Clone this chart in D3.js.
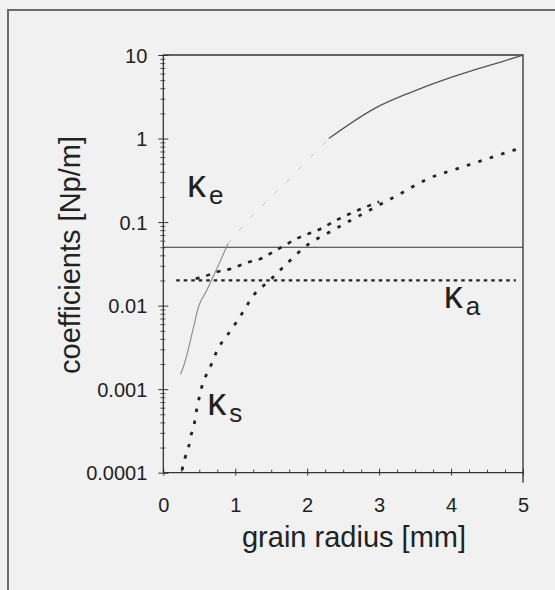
<!DOCTYPE html>
<html>
<head>
<meta charset="utf-8">
<script src="https://cdn.jsdelivr.net/npm/d3@7/dist/d3.min.js"></script>
<style>
  body { margin: 0; background: #f1f1f1; }
  svg { display: block; }
  text { font-family: "Liberation Sans", Arial, sans-serif; fill: #222; }
</style>
</head>
<body>
<div id="chart"></div>
<script>
//data
var yTicks = [10, 1, 0.1, 0.01, 0.001, 0.0001];
var yTickLabels = ["10", "1", "0.1", "0.01", "0.001", "0.0001"];
var xTicks = [0, 1, 2, 3, 4, 5];

// kappa_s (lower dashed curve)
var ksX = [0.26, 0.30, 0.35, 0.39, 0.43, 0.45, 0.48, 0.53, 0.60, 0.67, 0.74, 0.82, 0.92, 1.02, 1.14, 1.25, 1.37, 1.52, 1.67, 2.0, 2.3, 2.65, 3.0, 3.3, 3.68, 4.1, 4.5, 4.86, 5.0];
var ksY = [0.000107, 0.000148, 0.0002, 0.00029, 0.00038, 0.00049, 0.00066, 0.00103, 0.0015, 0.002, 0.0028, 0.0037, 0.0048, 0.0064, 0.0093, 0.0132, 0.0166, 0.0217, 0.029, 0.053, 0.075, 0.11, 0.16, 0.22, 0.33, 0.44, 0.57, 0.72, 0.78];

// kappa_a + kappa_s (upper dashed curve, merges with kappa_s)
var sumX = [0.45, 0.55, 0.72, 0.93, 1.18, 1.34, 1.51, 1.66, 1.9, 2.16, 2.45, 2.8, 3.0];
var sumY = [0.021, 0.022, 0.025, 0.0275, 0.033, 0.036, 0.043, 0.051, 0.066, 0.081, 0.11, 0.15, 0.175];

// kappa_a (flat dotted line)
var kaX = [0.18, 4.9];
var kaY = [0.02, 0.02];

// kappa_e (thin solid line, faint in the middle)
var keX = [0.24, 0.30, 0.42, 0.49, 0.60, 0.72, 0.90, 1.2, 1.5, 1.8, 2.05, 2.3, 2.94, 3.45, 4.0, 4.37, 4.7, 5.0];
var keY = [0.0015, 0.0021, 0.0055, 0.0097, 0.015, 0.025, 0.055, 0.11, 0.2, 0.36, 0.6, 1.0, 2.3, 3.6, 5.4, 6.8, 8.3, 10];

// horizontal solid reference line
var refX = [0, 5];
var refY = [0.05, 0.05];

var width = 555;
var height = 590;

var x = d3.scaleLinear().domain([0, 5]).range([163.3, 523]);
var y = d3.scaleLog().domain([0.0001, 10]).range([472.7, 55]);

var svg = d3.select("#chart")
    .append("svg")
    .attr("width", width)
    .attr("height", height);

svg.append("rect")
    .attr("width", width)
    .attr("height", height)
    .attr("fill", "#f1f1f1");

// scan frame
svg.append("path")
    .attr("d", "M555,10 H8 V590")
    .attr("fill", "none")
    .attr("stroke", "#6a6a6a")
    .attr("stroke-width", 2);

var zip = function(xs, ys) { return xs.map(function(d, i) { return [d, ys[i]]; }); };

var line = d3.line()
    .x(function(d) { return x(d[0]); })
    .y(function(d) { return y(d[1]); })
    .curve(d3.curveMonotoneX);

// minor ticks
var minorY = [];
for (var e = -4; e < 1; e++) {
    for (var m = 2; m < 10; m++) minorY.push(m * Math.pow(10, e));
}
var minorX = d3.range(0, 21).map(function(i) { return i * 0.25; })
    .filter(function(d) { return d % 1 !== 0; });

svg.append("g")
    .attr("transform", "translate(" + x(0) + ",0)")
    .call(d3.axisLeft(y).tickValues(minorY).tickSize(3).tickFormat(""))
    .call(function(g) { g.select(".domain").remove(); })
    .selectAll("line").attr("stroke", "#555");
svg.append("g")
    .attr("transform", "translate(" + x(0) + ",0)")
    .call(d3.axisRight(y).tickValues(minorY).tickSize(2).tickFormat(""))
    .call(function(g) { g.select(".domain").remove(); })
    .selectAll("line").attr("stroke", "#555");

svg.append("g")
    .attr("transform", "translate(0," + y(0.0001) + ")")
    .call(d3.axisTop(x).tickValues(minorX).tickSize(3).tickFormat(""))
    .call(function(g) { g.select(".domain").remove(); })
    .selectAll("line").attr("stroke", "#444");

// major ticks + labels
var yAxis = svg.append("g")
    .attr("transform", "translate(" + x(0) + ",0)")
    .call(d3.axisLeft(y).tickValues(yTicks).tickSize(5).tickPadding(11)
        .tickFormat(function(d, i) { return yTickLabels[i]; }));
yAxis.select(".domain").remove();
yAxis.selectAll("text").style("font-size", "20px").attr("fill", "#222").attr("dy", "0.36em");
yAxis.selectAll("line").attr("stroke", "#333");

svg.append("g")
    .attr("transform", "translate(" + x(0) + ",0)")
    .call(d3.axisRight(y).tickValues(yTicks).tickSize(5).tickFormat(""))
    .call(function(g) { g.select(".domain").remove(); })
    .selectAll("line").attr("stroke", "#333");

var xAxis = svg.append("g")
    .attr("transform", "translate(0," + y(0.0001) + ")")
    .call(d3.axisBottom(x).tickValues(xTicks).tickSize(3).tickPadding(22)
        .tickFormat(d3.format("d")));
xAxis.select(".domain").remove();
xAxis.selectAll("text").style("font-size", "20px").attr("fill", "#222");
xAxis.selectAll("line").attr("stroke", "#333");

svg.append("g")
    .attr("transform", "translate(0," + y(0.0001) + ")")
    .call(d3.axisTop(x).tickValues(xTicks).tickSize(4).tickFormat(""))
    .call(function(g) { g.select(".domain").remove(); })
    .selectAll("line").attr("stroke", "#333");

// frame of the plot
svg.append("path")
    .attr("d", "M" + x(0) + "," + y(0.0001) + " V" + y(10) + " H" + x(5) + " V" + (y(0.0001) + 10)
        + " M" + x(0) + "," + y(0.0001) + " H" + x(5))
    .attr("fill", "none")
    .attr("stroke", "#333")
    .attr("stroke-width", 1.3);

// reference line
svg.append("path")
    .attr("d", line(zip(refX, refY)))
    .attr("fill", "none")
    .attr("stroke", "#333")
    .attr("stroke-width", 1.1);

// kappa_e in three parts (faint middle as in the scan)
var ke = zip(keX, keY);
svg.append("path")
    .attr("d", line(ke.filter(function(d) { return d[0] <= 0.9; })))
    .attr("fill", "none").attr("stroke", "#8a8a8a").attr("stroke-width", 1.1);
svg.append("path")
    .attr("d", line(ke.filter(function(d) { return d[0] >= 0.9 && d[0] <= 2.3; })))
    .attr("fill", "none").attr("stroke", "#c4c4c4").attr("stroke-width", 1)
    .attr("stroke-dasharray", "5,12");
svg.append("path")
    .attr("d", line(ke.filter(function(d) { return d[0] >= 2.3; })))
    .attr("fill", "none").attr("stroke", "#555").attr("stroke-width", 1.3);

// kappa_a
svg.append("path")
    .attr("d", line(zip(kaX, kaY)))
    .attr("fill", "none")
    .attr("stroke", "#222")
    .attr("stroke-width", 2.2)
    .attr("stroke-dasharray", "3.5,4");

// kappa_a + kappa_s
svg.append("path")
    .attr("d", line(zip(sumX, sumY)))
    .attr("fill", "none")
    .attr("stroke", "#222")
    .attr("stroke-width", 2.6)
    .attr("stroke-dasharray", "4,7");

// kappa_s
svg.append("path")
    .attr("d", line(zip(ksX, ksY)))
    .attr("fill", "none")
    .attr("stroke", "#222")
    .attr("stroke-width", 2.8)
    .attr("stroke-dasharray", "3.5,8.5");

// curve labels
function kappa(px, py, sub) {
    var t = svg.append("text")
        .attr("x", x(px))
        .attr("y", y(py))
        .style("font-size", "38px");
    t.append("tspan").text("\u03BA");
    t.append("tspan").attr("dx", 3).attr("dy", 7).style("font-size", "26px").text(sub);
}
kappa(0.33, 0.2, "e");
kappa(3.9, 0.0094, "a");
kappa(0.61, 0.00049, "s");

// axis titles
svg.append("text")
    .attr("x", 354)
    .attr("y", 547)
    .attr("text-anchor", "middle")
    .style("font-size", "29px")
    .text("grain radius [mm]");

svg.append("text")
    .attr("transform", "translate(80,255) rotate(-90)")
    .attr("text-anchor", "middle")
    .style("font-size", "29px")
    .text("coefficients [Np/m]");
</script>
</body>
</html>
